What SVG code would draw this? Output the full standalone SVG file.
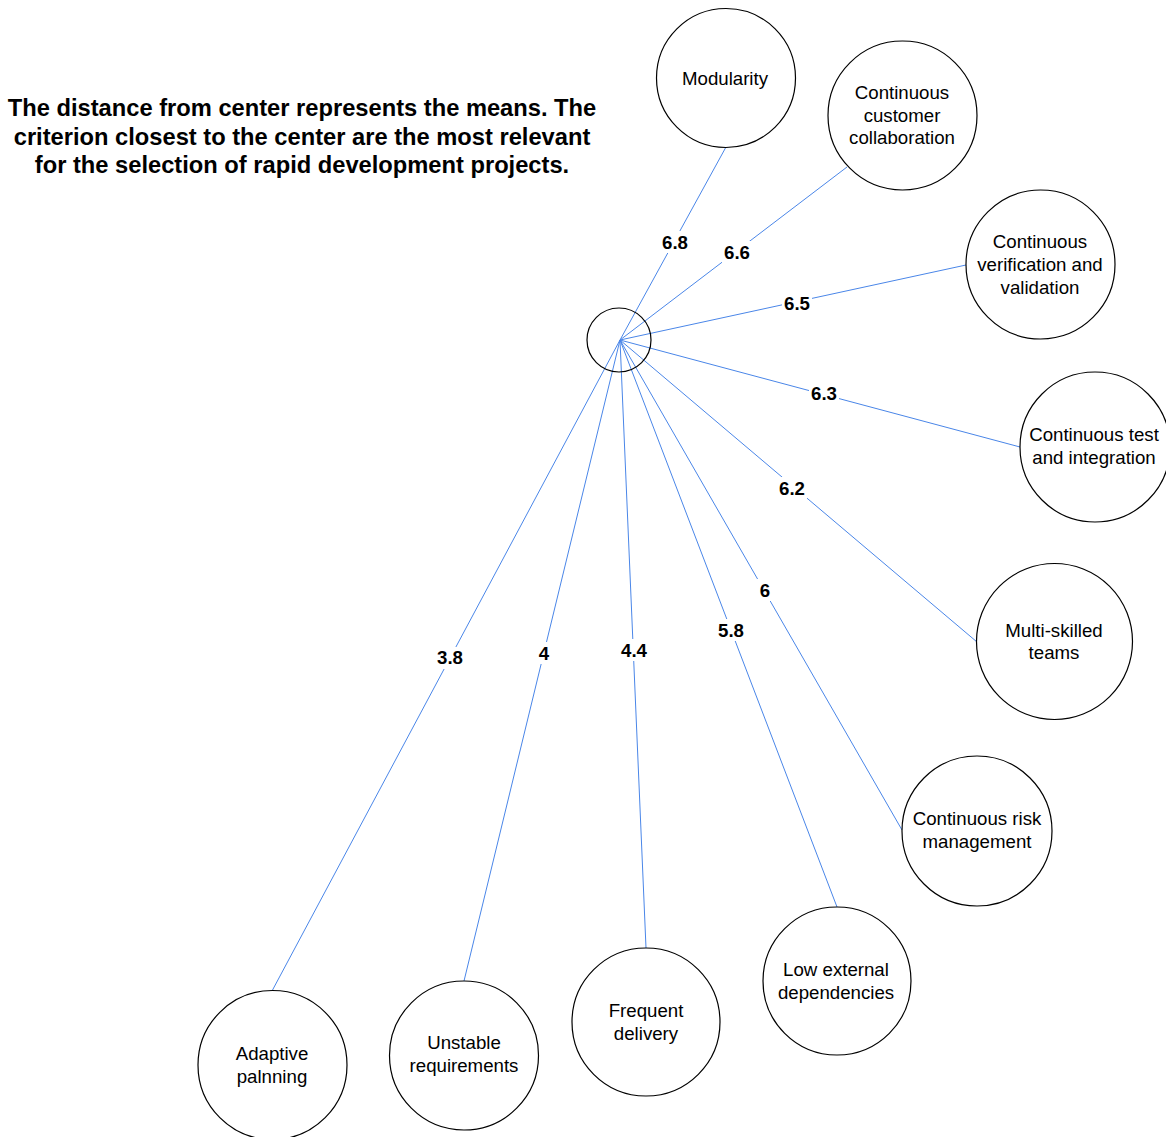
<svg xmlns="http://www.w3.org/2000/svg" width="1166" height="1137" viewBox="0 0 1166 1137">
<style>
.node circle{fill:#fff;stroke:#000;stroke-width:1.2}
.node text{font-family:"Liberation Sans",Arial,sans-serif;font-size:18.67px;fill:#000;text-anchor:middle}
.conn line{stroke:#4a86e8;stroke-width:1}
.lbl rect{fill:#fff}
.lbl text{font-family:"Liberation Sans",Arial,sans-serif;font-size:18.67px;font-weight:bold;fill:#000;text-anchor:middle}
.title{font-family:"Liberation Sans",Arial,sans-serif;font-size:23.7px;font-weight:bold;fill:#000;text-anchor:middle}
</style>
<rect width="1166" height="1137" fill="#fff"/>
<text class="title" x="302" y="116">The distance from center represents the means. The</text>
<text class="title" x="302" y="144.5">criterion closest to the center are the most relevant</text>
<text class="title" x="302" y="173">for the selection of rapid development projects.</text>
<g id="connectors" class="conn">
<line x1="620" y1="340" x2="726" y2="147"/>
<line x1="620" y1="340" x2="847" y2="167"/>
<line x1="620" y1="340" x2="966" y2="265"/>
<line x1="620" y1="340" x2="1020" y2="447"/>
<line x1="620" y1="340" x2="977" y2="642"/>
<line x1="620" y1="340" x2="902" y2="830"/>
<line x1="620" y1="340" x2="837" y2="907"/>
<line x1="620" y1="340" x2="646" y2="948"/>
<line x1="620" y1="340" x2="464" y2="981"/>
<line x1="620" y1="340" x2="272" y2="991"/>
</g>
<g id="labels" class="lbl">
<rect x="660" y="231" width="30" height="22"/><text x="675" y="248.7">6.8</text>
<rect x="722" y="241" width="30" height="22"/><text x="737" y="258.7">6.6</text>
<rect x="782" y="292" width="30" height="22"/><text x="797" y="309.7">6.5</text>
<rect x="809" y="382" width="30" height="22"/><text x="824" y="399.7">6.3</text>
<rect x="777" y="477" width="30" height="22"/><text x="792" y="494.7">6.2</text>
<rect x="757" y="579" width="16" height="22"/><text x="765" y="596.7">6</text>
<rect x="716" y="619" width="30" height="22"/><text x="731" y="636.7">5.8</text>
<rect x="619" y="639" width="30" height="22"/><text x="634" y="656.7">4.4</text>
<rect x="536" y="642" width="16" height="22"/><text x="544" y="659.7">4</text>
<rect x="435" y="647" width="30" height="22"/><text x="450" y="664.2">3.8</text>
</g>
<g id="center" class="node"><circle cx="619" cy="340" r="32" style="fill:none"/></g>
<g id="modularity" class="node"><circle cx="726" cy="78" r="69.5"/><text x="725" y="84.7">Modularity</text></g>
<g id="customer-collaboration" class="node"><circle cx="902.5" cy="115.5" r="74.5"/><text x="902" y="99">Continuous</text><text x="902" y="121.5">customer</text><text x="902" y="144">collaboration</text></g>
<g id="verification-validation" class="node"><circle cx="1040.5" cy="264.5" r="74.5"/><text x="1040" y="248">Continuous</text><text x="1040" y="271">verification and</text><text x="1040" y="294">validation</text></g>
<g id="test-integration" class="node"><circle cx="1095" cy="447" r="75"/><text x="1094" y="441">Continuous test</text><text x="1094" y="464">and integration</text></g>
<g id="multi-skilled" class="node"><circle cx="1054.5" cy="641.5" r="78"/><text x="1054" y="637">Multi-skilled</text><text x="1054" y="659">teams</text></g>
<g id="risk-management" class="node"><circle cx="977" cy="831" r="75"/><text x="977" y="825">Continuous risk</text><text x="977" y="848">management</text></g>
<g id="low-external" class="node"><circle cx="837" cy="981" r="74"/><text x="836" y="976">Low external</text><text x="836" y="999">dependencies</text></g>
<g id="frequent-delivery" class="node"><circle cx="646" cy="1022" r="74"/><text x="646" y="1017">Frequent</text><text x="646" y="1040">delivery</text></g>
<g id="unstable-requirements" class="node"><circle cx="464" cy="1055.5" r="74.5"/><text x="464" y="1049">Unstable</text><text x="464" y="1072">requirements</text></g>
<g id="adaptive-planning" class="node"><circle cx="272.5" cy="1065" r="74.5"/><text x="272" y="1060">Adaptive</text><text x="272" y="1083">palnning</text></g>
</svg>
